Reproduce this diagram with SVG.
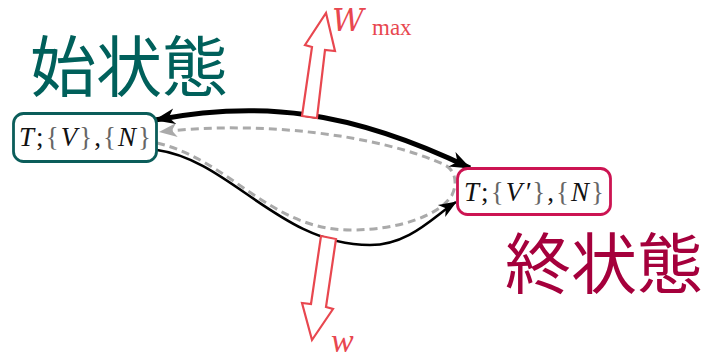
<svg xmlns="http://www.w3.org/2000/svg" width="718" height="358" viewBox="0 0 718 358">
<style>
.box{fill:#fff;stroke-width:2.8}
.math{font-family:"Liberation Serif","DejaVu Serif",serif;font-size:27px;fill:#111}
.it{font-style:italic}
.br{fill:#666}
.cjk{font-family:"Noto Sans CJK JP","Noto Sans CJK SC",sans-serif;font-size:66px}
.red{fill:#e8474f}
.harrow{fill:#fff;stroke:#e8474f;stroke-width:2.2;stroke-linejoin:miter}
</style>
<defs>
<marker id="ah" viewBox="-22 -9 24 18" refX="0" refY="0" markerWidth="24" markerHeight="18" markerUnits="userSpaceOnUse" orient="auto-start-reverse">
<path d="M1,0 L-20,-8 L-14,0 L-20,8 Z" fill="#000"/>
</marker>
<marker id="ahs" viewBox="-20 -8 22 16" refX="0" refY="0" markerWidth="22" markerHeight="16" markerUnits="userSpaceOnUse" orient="auto">
<path d="M1,0 L-17,-7 L-12,0 L-17,7 Z" fill="#000"/>
</marker>
<marker id="ahg" viewBox="-20 -8 22 16" refX="0" refY="0" markerWidth="22" markerHeight="16" markerUnits="userSpaceOnUse" orient="auto">
<path d="M1,0 L-17,-7 L-12,0 L-17,7 Z" fill="#aaa"/>
</marker>
</defs>

<g id="connectors" fill="none">
<path d="M157,143 C230,160 270,230 350,230 C400,230 440,215 452,195 C458,183 455,170 445,165 C380,135 260,120 160,132" stroke="#aaa" stroke-width="3" stroke-dasharray="8 5" marker-end="url(#ahg)"/>
<path d="M157,150 C230,160 280,245 370,245 C410,245 435,215 456,202" stroke="#000" stroke-width="2.6" marker-end="url(#ahs)"/>
<path d="M155,120 C260,100 350,110 470,168" stroke="#000" stroke-width="5" marker-start="url(#ah)" marker-end="url(#ah)"/>
</g>

<g id="work-out">
<polygon class="harrow" points="302,116 317,118 325,50 335,51 326,13 305,45 312,47"/>
<text class="red" x="332" y="31" style="font-family:'DejaVu Serif',serif;font-size:31px;font-style:italic">W</text>
<text class="red" x="372" y="35" style="font-family:'Liberation Serif',serif;font-size:23px">max</text>
</g>

<g id="work-in">
<polygon class="harrow" points="321,236 336,239 326,307 333,309 312,340 302,303 311,304"/>
<text class="red" x="331" y="352" style="font-family:'Liberation Serif',serif;font-size:34px;font-style:italic">w</text>
</g>

<g id="initial">
<rect class="box" x="13.5" y="113.5" width="143" height="48" rx="10" stroke="#0b5d5a"/>
<text class="math" x="19" y="146" textLength="132" lengthAdjust="spacing"><tspan class="it">T</tspan>;<tspan class="br">{</tspan><tspan class="it">V</tspan><tspan class="br">}</tspan>,<tspan class="br">{</tspan><tspan class="it">N</tspan><tspan class="br">}</tspan></text>
<text class="cjk" x="30" y="91" fill="#00605b">始状態</text>
</g>

<g id="final">
<rect class="box" x="457.5" y="168.5" width="153" height="46" rx="10" stroke="#cc1452"/>
<text class="math" x="464" y="201" textLength="140" lengthAdjust="spacing"><tspan class="it">T</tspan>;<tspan class="br">{</tspan><tspan class="it">V′</tspan><tspan class="br">}</tspan>,<tspan class="br">{</tspan><tspan class="it">N</tspan><tspan class="br">}</tspan></text>
<text class="cjk" x="505" y="288" fill="#a5003c">終状態</text>
</g>
</svg>
